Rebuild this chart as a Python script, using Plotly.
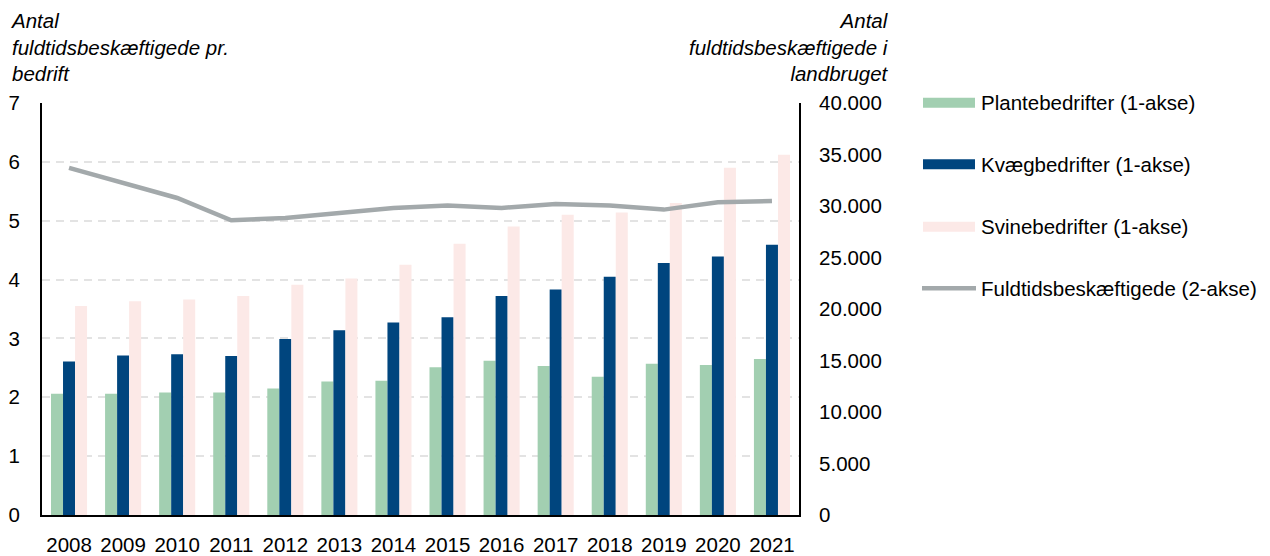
import plotly.graph_objects as go

years = ['2008', '2009', '2010', '2011', '2012', '2013', '2014',
         '2015', '2016', '2017', '2018', '2019', '2020', '2021']
plante = [2.06, 2.06, 2.08, 2.08, 2.15, 2.27, 2.28, 2.51, 2.62, 2.53, 2.35, 2.57, 2.55, 2.65]
kvaeg = [2.61, 2.71, 2.73, 2.70, 2.99, 3.14, 3.27, 3.36, 3.72, 3.83, 4.05, 4.28, 4.39, 4.59]
svine = [3.55, 3.63, 3.66, 3.72, 3.91, 4.02, 4.25, 4.61, 4.90, 5.10, 5.14, 5.30, 5.90, 6.12]
fuldtid = [33700, 32270, 30780, 28610, 28840, 29330, 29810, 30040, 29810, 30200, 30040, 29650, 30360, 30490]

names = ['Plantebedrifter (1-akse)', 'Kvægbedrifter (1-akse)',
         'Svinebedrifter (1-akse)', 'Fuldtidsbeskæftigede (2-akse)']
colors = ['#a2cfb1', '#00457e', '#fce9e7', '#a3a9ab']

FONT = 'Liberation Sans, Arial, sans-serif'
FS = 20.5

# plot area in pixels (for placing the hand-made legend)
L, R, T, B = 42, 799, 103, 515
def px(x):
    return (x - L) / (R - L)
def py(y):
    return (B - y) / (B - T)

fig = go.Figure()
for vals, name, col in zip([plante, kvaeg, svine], names[:3], colors[:3]):
    fig.add_trace(go.Bar(x=years, y=vals, name=name, marker_color=col,
                         marker_line_width=0, showlegend=False))
fig.add_trace(go.Scatter(x=years, y=fuldtid, name=names[3], yaxis='y2',
                         mode='lines', line=dict(color=colors[3], width=4.5),
                         showlegend=False))

shapes = []
annotations = []
leg_y = [102.7, 164.3, 226.7, 288.3]
for i, (name, col) in enumerate(zip(names, colors)):
    yc = leg_y[i]
    if i < 3:
        shapes.append(dict(type='rect', xref='paper', yref='paper',
                           x0=px(923), x1=px(975), y0=py(yc + 5), y1=py(yc - 5),
                           fillcolor=col, line_width=0))
    else:
        shapes.append(dict(type='line', xref='paper', yref='paper',
                           x0=px(922), x1=px(976), y0=py(yc), y1=py(yc),
                           line=dict(color=col, width=4.5)))
    annotations.append(dict(text=name, xref='paper', yref='paper',
                            x=px(979), y=py(yc), xanchor='left', yanchor='middle',
                            showarrow=False, font=dict(size=FS, color='#000')))

annotations.append(dict(text='<i>Antal<br>fuldtidsbeskæftigede pr.<br>bedrift</i>',
                        xref='paper', yref='paper', x=px(8), y=py(7),
                        xanchor='left', yanchor='top', align='left', showarrow=False,
                        font=dict(size=FS, color='#000')))
annotations.append(dict(text='<i>Antal<br>fuldtidsbeskæftigede i<br>landbruget</i>',
                        xref='paper', yref='paper', x=px(891), y=py(7),
                        xanchor='right', yanchor='top', align='right', showarrow=False,
                        font=dict(size=FS, color='#000')))

fig.update_layout(
    width=1270, height=556,
    margin=dict(l=L, r=1270 - R, t=T, b=556 - B),
    paper_bgcolor='white', plot_bgcolor='white',
    font=dict(family=FONT, size=FS, color='#000'),
    barmode='group', bargap=0.333, bargroupgap=0,
    separators=',.',
    shapes=shapes, annotations=annotations,
    xaxis=dict(type='category', showline=True, linecolor='#000', linewidth=2,
               ticks='outside', ticklen=10, tickcolor='rgba(0,0,0,0)',
               showgrid=False, tickfont=dict(size=FS), automargin=False),
    yaxis=dict(range=[0, 7], dtick=1, showline=True, linecolor='#000', linewidth=2,
               showgrid=True, gridcolor='#e3e3e3', griddash='8px,6px', gridwidth=1.5,
               zeroline=False, ticks='outside', ticklen=16,
               tickcolor='rgba(0,0,0,0)', tickfont=dict(size=FS), automargin=False),
    yaxis2=dict(range=[0, 40000], dtick=5000, overlaying='y', side='right',
                showline=True, linecolor='#000', linewidth=2, showgrid=False,
                zeroline=False, tickformat=',d', ticks='outside', ticklen=14,
                tickcolor='rgba(0,0,0,0)', tickfont=dict(size=FS), automargin=False),
)

# drop the default 8px page margin so the figure fills the window exactly
fig.write_html('out.html', config={'displayModeBar': False},
               post_script="document.body.style.margin='0';")
